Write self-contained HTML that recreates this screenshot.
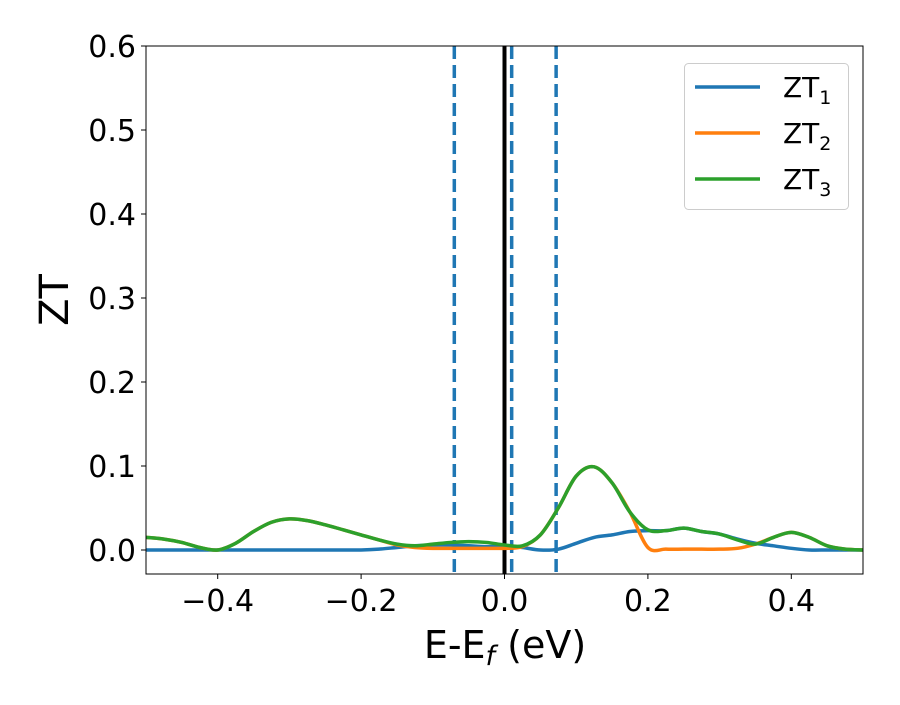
<!DOCTYPE html>
<html><head><meta charset="utf-8"><style>
body{margin:0;background:#fff}
svg{font-family:"DejaVu Sans","Liberation Sans",sans-serif}
</style></head><body>
<svg id="chart" width="900" height="700" xmlns="http://www.w3.org/2000/svg">
<g id="plot"></g>
</svg>
<script>
const xs = [-0.5,-0.475,-0.45,-0.425,-0.4,-0.375,-0.35,-0.325,-0.3,-0.275,-0.25,-0.225,-0.2,-0.175,-0.15,-0.125,-0.1,-0.075,-0.05,-0.025,0,0.025,0.05,0.075,0.1,0.125,0.15,0.175,0.2,0.225,0.25,0.275,0.3,0.325,0.35,0.375,0.4,0.425,0.45,0.475,0.5];
const zt1 = [0,0,0,0,0,0,0,0,0,0,0,0,0,0.001,0.003,0.005,0.006,0.006,0.005,0.004,0.005,0.003,0,0.001,0.008,0.015,0.018,0.022,0.023,0.023,0.026,0.022,0.019,0.013,0.008,0.005,0.002,0,0,0,0];
const zt2 = [0.015,0.013,0.009,0.003,0,0.008,0.022,0.033,0.037,0.035,0.030,0.024,0.018,0.012,0.006,0.003,0.002,0.002,0.002,0.002,0.002,0.004,0.018,0.050,0.088,0.099,0.080,0.045,0.003,0.001,0.001,0.001,0.001,0.002,0.007,0.015,0.021,0.015,0.005,0.001,0];
const zt3 = [0.015,0.013,0.009,0.003,0,0.008,0.022,0.033,0.037,0.035,0.030,0.024,0.018,0.012,0.007,0.005,0.007,0.009,0.010,0.009,0.006,0.005,0.018,0.050,0.088,0.099,0.080,0.045,0.024,0.023,0.026,0.022,0.019,0.012,0.007,0.015,0.021,0.015,0.005,0.001,0];
const xTicks = [-0.4,-0.2,0.0,0.2,0.4];
const xTickLabels = ["\u22120.4","\u22120.2","0.0","0.2","0.4"];
const yTicks = [0,0.1,0.2,0.3,0.4,0.5,0.6];
const yTickLabels = ["0.0","0.1","0.2","0.3","0.4","0.5","0.6"];
const dashedX = [-0.07,0.01,0.072];
const seriesNames = ["ZT1","ZT2","ZT3"];

const L=146,R=863,T=46,B=574;
const X=v=>L+(v+0.5)/1.0*(R-L);
const Y=v=>550-v*840;
const ns="http://www.w3.org/2000/svg";
const svg=document.getElementById('chart');
function mk(tag,attrs,parent){const e=document.createElementNS(ns,tag);for(const k in attrs)e.setAttribute(k,attrs[k]);(parent||svg).appendChild(e);return e;}
const plot=document.getElementById('plot');
const clip=mk('clipPath',{id:'cp'});mk('rect',{x:L,y:T,width:R-L,height:B-T},clip);
plot.setAttribute('clip-path','url(#cp)');

function smooth(vals){
  const p=xs.map((x,i)=>[X(x),Y(vals[i])]);
  let d='M'+p[0][0]+','+p[0][1];
  for(let i=0;i<p.length-1;i++){
    const p0=p[Math.max(0,i-1)],p1=p[i],p2=p[i+1],p3=p[Math.min(p.length-1,i+2)];
    const c1=[p1[0]+(p2[0]-p0[0])/6,p1[1]+(p2[1]-p0[1])/6];
    const c2=[p2[0]-(p3[0]-p1[0])/6,p2[1]-(p3[1]-p1[1])/6];
    d+=' C'+c1[0]+','+c1[1]+' '+c2[0]+','+c2[1]+' '+p2[0]+','+p2[1];
  }
  return d;
}
dashedX.forEach(v=>{
  const l=mk('line',{x1:X(v),x2:X(v),y1:T,y2:B,stroke:'#1f77b4','stroke-width':3.5,'stroke-dasharray':'13,6'},plot);
  
  
});
const fl=mk('line',{x1:X(0),x2:X(0),y1:T,y2:B,stroke:'#000','stroke-width':4},plot);


const colors=['#1f77b4','#ff7f0e','#2ca02c'];
[zt1,zt2,zt3].forEach((s,i)=>{
  const p=mk('path',{d:smooth(s),fill:'none',stroke:colors[i],'stroke-width':3.5,'stroke-linejoin':'round'},plot);
  
  
});
const fr=mk('rect',{x:L,y:T,width:R-L,height:B-T,fill:'none',stroke:'#000','stroke-width':1});


xTicks.forEach((v,i)=>{
  mk('line',{x1:X(v),x2:X(v),y1:B,y2:B+5,stroke:'#000','stroke-width':1});
  const t=mk('text',{x:X(v),y:B+37,'font-size':30,'text-anchor':'middle',fill:'#000'});
  t.textContent=xTickLabels[i];
  
  
});
yTicks.forEach((v,i)=>{
  mk('line',{x1:L-5,x2:L,y1:Y(v),y2:Y(v),stroke:'#000','stroke-width':1});
  const t=mk('text',{x:L-10,y:Y(v)+11,'font-size':30,'text-anchor':'end',fill:'#000'});
  t.textContent=yTickLabels[i];
  
  
});
const xt=mk('text',{x:505,y:658,'font-size':38,'text-anchor':'middle',fill:'#000'});
xt.innerHTML='E-E<tspan font-style="italic" font-size="27" dy="7">f</tspan><tspan dy="-7"> (eV)</tspan>';


const yt=mk('text',{x:68,y:300,'font-size':40,'text-anchor':'middle',fill:'#000',transform:'rotate(-90 68 300)'});
yt.textContent='ZT';


const lg=mk('g',{});


mk('rect',{x:684.5,y:63.5,width:164,height:146,rx:4,fill:'#fff','fill-opacity':0.8,stroke:'#ccc','stroke-width':1},lg);
seriesNames.forEach((n,i)=>{
  const y=87+i*46;
  const g=mk('g',{},lg);
  
  
  mk('line',{x1:695,x2:760,y1:y,y2:y,stroke:colors[i],'stroke-width':3.5},g);
  const t=mk('text',{x:783,y:y+10,'font-size':28,fill:'#000'},g);
  t.innerHTML='ZT<tspan font-size="19" dy="7">'+(i+1)+'</tspan>';
});
</script>
</body></html>
